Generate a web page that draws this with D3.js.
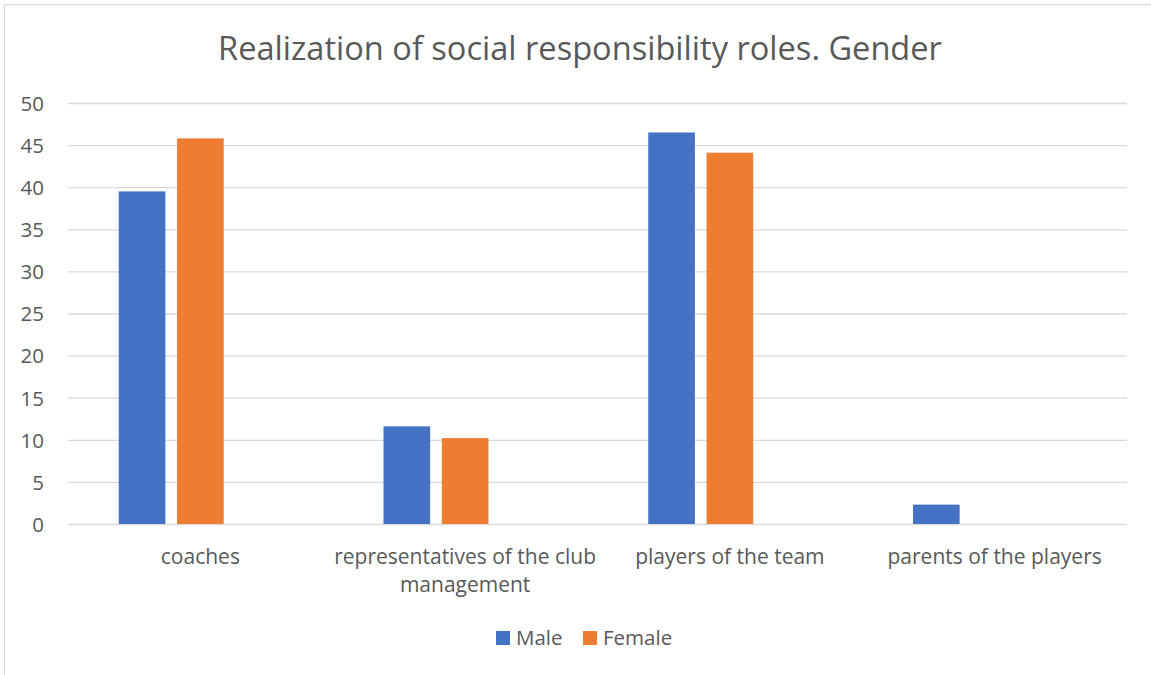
<!DOCTYPE html>
<html>
<head>
<meta charset="utf-8">
<script src="https://cdn.jsdelivr.net/npm/d3@7"></script>
<style>
  html, body { margin: 0; padding: 0; background: #fff; }
  svg { display: block; font-family: "Open Sans", sans-serif; }
</style>
</head>
<body>
<svg id="chart" width="1151" height="675"></svg>
<script>
// Share of responses (%) by role, split by gender
const categories = [
  ["coaches"],
  ["representatives of the club", "management"],
  ["players of the team"],
  ["parents of the players"]
];
const seriesNames = ["Male", "Female"];
const maleValues = [39.5, 11.6, 46.5, 2.3];
const femaleValues = [45.8, 10.2, 44.1, 0];
const yTicks = [0, 5, 10, 15, 20, 25, 30, 35, 40, 45, 50];
const titleText = "Realization of social responsibility roles. Gender";

const colors = { Male: "#4472C4", Female: "#ED7D31" };
const textColor = "#595959";
const gridColor = "#D9D9D9";

const svg = d3.select("#chart");
const margin = { left: 68, right: 24, top: 103, bottom: 151 };
const W = 1151, H = 675;
const plotW = W - margin.left - margin.right;
const plotH = H - margin.top - margin.bottom;

// chart frame
svg.append("rect")
  .attr("x", 4.5).attr("y", 4.5)
  .attr("width", 1200).attr("height", 700)
  .attr("fill", "#fff").attr("stroke", gridColor).attr("stroke-width", 1);

// title
svg.append("text")
  .attr("x", 580).attr("y", 60)
  .attr("text-anchor", "middle")
  .attr("fill", textColor)
  .attr("font-size", 32.6)
  .text(titleText);

const g = svg.append("g").attr("transform", `translate(${margin.left},${margin.top})`);

const x0 = d3.scaleBand()
  .domain(categories.map((d, i) => i))
  .range([0, plotW])
  .paddingInner(0).paddingOuter(0);

// three slots per category; the third one stays empty
const x1 = d3.scaleBand()
  .domain([...seriesNames, "_"])
  .range([50.75, x0.bandwidth() - 50.75])
  .paddingInner(0.2);

const y = d3.scaleLinear().domain([0, 50]).range([plotH, 0]);

// gridlines + y labels
const yAxis = d3.axisLeft(y).tickValues(yTicks).tickSize(-plotW).tickPadding(24);
const ya = g.append("g").call(yAxis);
ya.select(".domain").remove();
ya.selectAll(".tick line").attr("stroke", gridColor).attr("stroke-width", 1.3);
ya.selectAll(".tick text")
  .attr("fill", textColor)
  .attr("font-size", 20.5)
  .attr("font-family", "Open Sans, sans-serif")
  .attr("dy", "0.36em");

// bars
const rows = categories.map((c, i) => ({ i, Male: maleValues[i], Female: femaleValues[i] }));
const groups = g.selectAll(".cat").data(rows).join("g")
  .attr("transform", d => `translate(${x0(d.i)},0)`);
groups.selectAll("rect")
  .data(d => seriesNames.map(k => ({ key: k, value: d[k] })).filter(d => d.value > 0))
  .join("rect")
  .attr("x", d => x1(d.key))
  .attr("width", x1.bandwidth())
  .attr("y", d => y(d.value))
  .attr("height", d => y(0) - y(d.value))
  .attr("fill", d => colors[d.key]);

// category labels
const xa = g.append("g").attr("transform", `translate(0,${plotH})`);
categories.forEach((lines, i) => {
  const t = xa.append("text")
    .attr("x", x0(i) + x0.bandwidth() / 2)
    .attr("y", 39.5)
    .attr("text-anchor", "middle")
    .attr("fill", textColor)
    .attr("font-size", 21);
  lines.forEach((ln, j) => {
    t.append("tspan")
      .attr("x", x0(i) + x0.bandwidth() / 2)
      .attr("dy", j === 0 ? 0 : 28)
      .text(ln);
  });
});

// legend
const legend = svg.append("g").attr("transform", "translate(496,631)");
const legendX = [0, 87];
seriesNames.forEach((name, i) => {
  legend.append("rect")
    .attr("x", legendX[i]).attr("y", 0)
    .attr("width", 14).attr("height", 14)
    .attr("fill", colors[name]);
  legend.append("text")
    .attr("x", legendX[i] + 20).attr("y", 14)
    .attr("fill", textColor)
    .attr("font-size", 20.5)
    .text(name);
});
</script>
</body>
</html>
